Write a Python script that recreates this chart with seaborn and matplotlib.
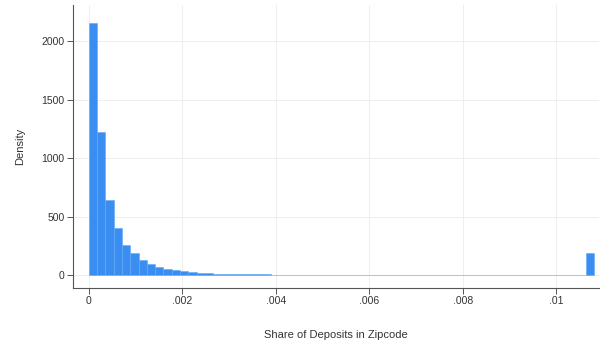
import numpy as np
import pandas as pd
import matplotlib
matplotlib.use("Agg")
import matplotlib.pyplot as plt
import seaborn as sns

# Histogram of share of deposits in zipcode (61 bins from 0 to 0.0108)
n_bins = 61
x_max = 0.0108
density = [2160, 1220, 641, 402, 256, 188, 125, 92, 68, 52, 40, 31, 24, 19,
           15, 12, 10, 8, 7, 6, 5, 4.5, 4, 3.5, 3.2, 2.9, 2.6, 2.4, 2.2, 2.0,
           1.8, 1.7, 1.6, 1.5, 1.4, 1.3, 1.2, 1.1, 1.0, 1.0, 0.9, 0.9, 0.8,
           0.8, 0.8, 0.7, 0.7, 0.7, 0.6, 0.6, 0.6, 0.6, 0.5, 0.5, 0.5, 0.5,
           0.5, 0.5, 0.5, 0.5, 188]
x_ticks = [0, 0.002, 0.004, 0.006, 0.008, 0.01]
x_ticklabels = ["0", ".002", ".004", ".006", ".008", ".01"]
y_ticks = [0, 500, 1000, 1500, 2000]
y_ticklabels = ["0", "500", "1000", "1500", "2000"]

edges = [float(e) for e in np.linspace(0, x_max, n_bins + 1)]
centers = [(edges[i] + edges[i + 1]) / 2 for i in range(n_bins)]
df = pd.DataFrame({"x": centers, "w": density})

sns.set_style("white")
plt.rcParams["font.family"] = ["Liberation Sans", "DejaVu Sans"]

fig = plt.figure(figsize=(6.01, 3.45), dpi=100)
ax = fig.add_axes([73 / 601, (345 - 288) / 345, (599 - 73) / 601, (288 - 5) / 345])

sns.histplot(data=df, x="x", weights="w", bins=edges, stat="count",
             color="#3a8ef2", edgecolor="#62a9f7", linewidth=0.4, alpha=1,
             ax=ax, zorder=3)

ax.set_xlim(-0.00034, 0.01091)
ax.set_ylim(-111, 2310)
ax.set_xticks(x_ticks)
ax.set_xticklabels(x_ticklabels)
ax.set_yticks(y_ticks)
ax.set_yticklabels(y_ticklabels)
ax.grid(True, color="#eeeeee", linewidth=0.7, zorder=0)
ax.set_axisbelow(True)

for s in ["top", "right"]:
    ax.spines[s].set_visible(False)
for s in ["left", "bottom"]:
    ax.spines[s].set_color("#555555")
    ax.spines[s].set_linewidth(0.8)

ax.tick_params(axis="both", which="major", length=4, width=0.7,
               color="#555555", labelsize=7.5, labelcolor="#333333",
               left=True, bottom=True, pad=2)
ax.set_xlabel("Share of Deposits in Zipcode", fontsize=8, color="#333333",
              labelpad=17)
ax.set_ylabel("Density", fontsize=8, color="#333333", labelpad=12)

fig.savefig("out.png", dpi=100, facecolor="white")
